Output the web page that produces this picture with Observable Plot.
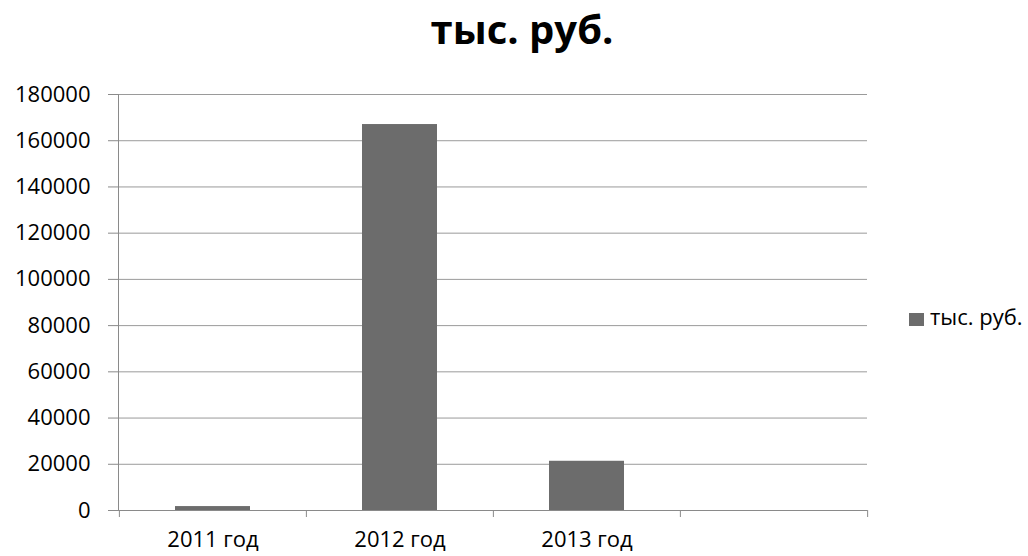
<!DOCTYPE html>
<html>
<head>
<meta charset="utf-8">
<script src="https://cdn.jsdelivr.net/npm/d3@7"></script>
<script src="https://cdn.jsdelivr.net/npm/@observablehq/plot@0.6"></script>
<style>
  html, body { margin: 0; padding: 0; background: #fff; }
  #wrap { position: relative; width: 1028px; height: 556px; font-family: "Open Sans", sans-serif; }
  #title { box-sizing: border-box; height: 60px; padding-top: 9px; padding-left: 16px; line-height: 40px;
           font-size: 40px; font-weight: 700; text-align: center; color: #000; }
  #legend { position: absolute; left: 909px; top: 305px; line-height: 22px; font-size: 22px; color: #000; white-space: nowrap; }
  #legend .sw { display: inline-block; width: 15px; height: 13px; background: #6c6c6c; margin-right: 6px; vertical-align: -1px; }
</style>
</head>
<body>
<div id="wrap">
  <div id="title"></div>
  <div id="chart"></div>
  <div id="legend"><span class="sw"></span><span id="legendText"></span></div>
</div>
<script>
const titleText = "тыс. руб.";
const seriesName = "тыс. руб.";
const categories = ["2011 год", "2012 год", "2013 год", ""];
const barCategories = ["2011 год", "2012 год", "2013 год"];
const values = [1700, 167000, 21300];
const yTicks = [0, 20000, 40000, 60000, 80000, 100000, 120000, 140000, 160000, 180000];

document.getElementById("title").textContent = titleText;
document.getElementById("legendText").textContent = seriesName;

const data = barCategories.map((c, i) => ({category: c, value: values[i]}));

const W = 1028, H = 496, mL = 118, mR = 161, mT = 34, mB = 46;
const step = (W - mL - mR) / categories.length;
const gridColor = "#9a9a9a";
const axisColor = "#8a8a8a";

const chart = Plot.plot({
  width: W,
  height: H,
  marginLeft: mL,
  marginRight: mR,
  marginTop: mT,
  marginBottom: mB,
  style: {fontFamily: "Open Sans, sans-serif", fontSize: "22px", color: "#000", background: "#fff", overflow: "visible"},
  x: {domain: categories, paddingInner: 0.6, paddingOuter: 0.3},
  y: {domain: [0, 180000]},
  marks: [
    Plot.gridY(yTicks, {stroke: gridColor, strokeOpacity: 1}),
    Plot.barY(data, {x: "category", y: "value", fill: "#6c6c6c"}),
    Plot.ruleY([0], {stroke: axisColor}),
    Plot.frame({anchor: "left", stroke: axisColor}),
    Plot.axisY({ticks: yTicks, tickSize: 10, tickPadding: 18, stroke: axisColor, fill: "#000",
                tickFormat: d => String(d), label: null}),
    Plot.axisX({ticks: categories, tickSize: 7, dx: -step / 2, text: null, stroke: axisColor, label: null}),
    Plot.axisX({ticks: categories.slice(-1), tickSize: 7, dx: step / 2, text: null, stroke: axisColor, label: null}),
    Plot.axisX({ticks: categories, tickSize: 0, tickPadding: 21, fill: "#000", label: null})
  ]
});
document.getElementById("chart").appendChild(chart);
</script>
</body>
</html>
